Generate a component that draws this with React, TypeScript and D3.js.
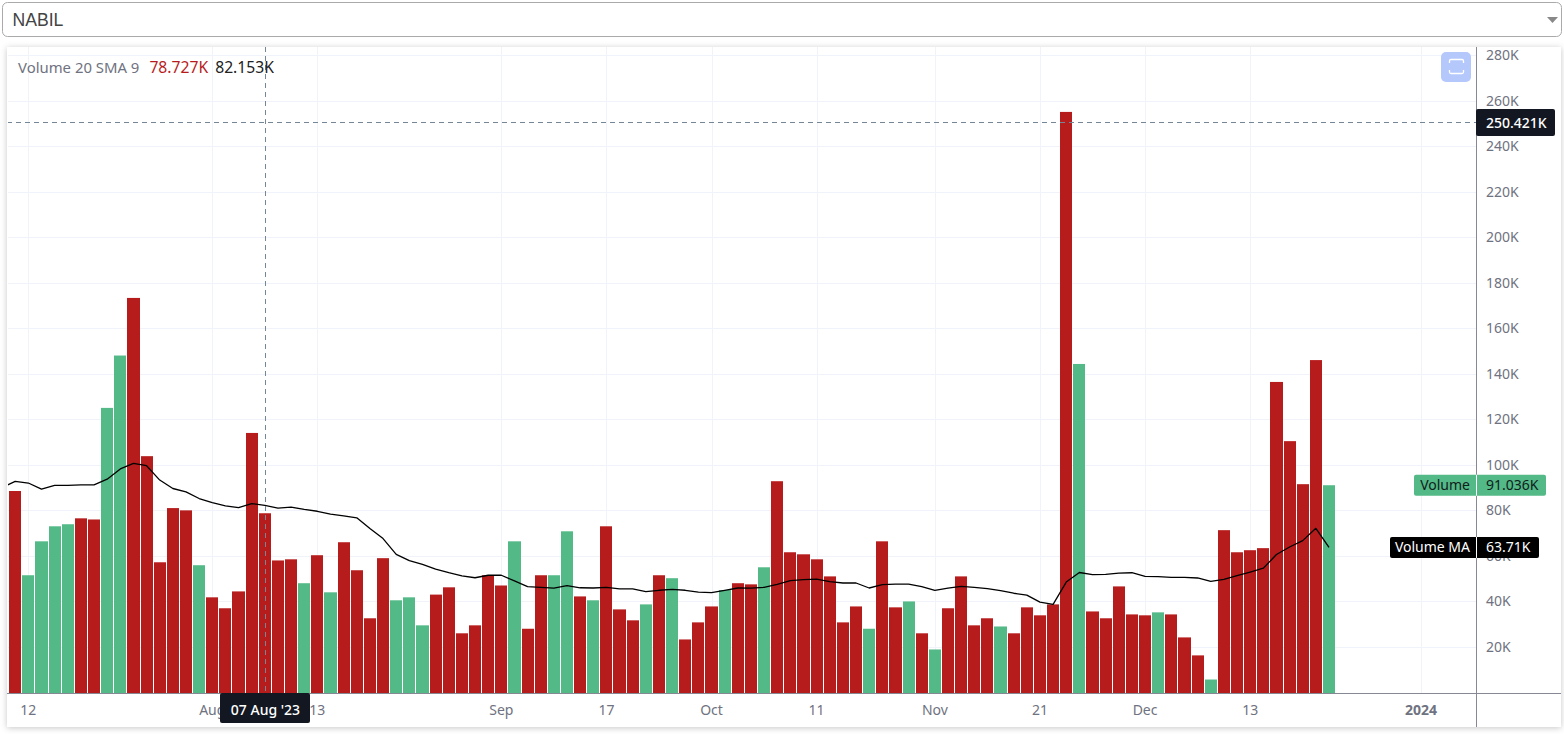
import * as d3 from "d3";
import { useEffect, useRef } from "react";

const WIDTH = 1564;
const HEIGHT = 734;
const FONT = "'Noto Sans', sans-serif";

// volume per session, in thousands
const VOLUME = [
  88.5, 51.5, 66.4, 73, 73.9, 76.5, 76, 125, 148, 173.3, 103.8, 57.2, 81, 80, 55.9, 41.8, 37, 44.4, 114, 78.727,
  58, 58.5, 48, 60.3, 44, 66, 53.7, 32.6, 59, 40.5, 41.8, 29.5, 43, 46.2, 26, 29.5, 51.5, 47, 66.4, 28,
  51.5, 51.5, 70.8, 42.2, 40.5, 73, 36.5, 31.7, 38.7, 51.5, 50.2, 23.3, 30.8, 37.8, 45, 48, 47.5, 55, 92.8, 61.6,
  60.7, 58.5, 51, 30.8, 37.8, 28, 66.4, 37.4, 40, 26, 18.9, 37, 51, 29.5, 32.6, 29, 26, 37.4, 33.9, 38.7,
  255, 144.3, 35.6, 32.6, 46.6, 34.3, 33.9, 35.2, 34.3, 24.2, 16.3, 5.7, 71.3, 61.6, 62.5, 63.4, 136.4, 110.4, 91.5, 146,
  91.036,
];

// indexes of the sessions that closed up
const UP_BARS = [
  1, 2, 3, 4, 7, 8, 14, 22, 24, 29, 30, 31, 38, 41, 42, 44, 48, 50, 54, 57, 65, 68, 70, 75, 81, 87, 91, 100,
];

// the session just off the left edge, the line runs out of the pane towards it
const SMA_BEFORE = 90;
const SMA = [
  92.7, 92, 89.3, 91, 91, 91.2, 91.2, 93.7, 98.2, 100.6, 99.6, 93.3, 89.6, 88.1, 85.2, 83.4, 82, 81.2, 83, 82.153,
  81, 81.4, 80.4, 79.6, 78.3, 77.6, 76.7, 72, 67.6, 60.7, 57.9, 56.3, 54.2, 52.6, 51.2, 50.4, 51.5, 51.5, 49, 46.5,
  46.2, 45.8, 46.9, 46, 45.9, 46.2, 45.5, 45.5, 44.3, 44.9, 45.3, 44.9, 44.1, 43.9, 44.9, 45.9, 45.8, 46.2, 47.5, 49.1,
  49.6, 49.8, 48.7, 48.1, 48.1, 45.9, 47.4, 47.6, 47.6, 46.5, 44.9, 45.8, 46.6, 46.2, 45.6, 44.7, 43.6, 42.8, 39.7, 38.7,
  48.5, 52.7, 51.8, 51.9, 52.4, 52.6, 51, 50.9, 50.6, 50.6, 50.3, 48.8, 49.7, 51.3, 52.9, 54.6, 60.6, 63.9, 66.7, 72.1,
  63.71,
];

const TIME_LABELS = ["12", "Aug", "13", "Sep", "17", "Oct", "11", "Nov", "21", "Dec", "13", "2024"];
const TIME_INDEX = [1, 15, 23, 37, 45, 53, 61, 70, 78, 86, 94, 107];
const VOLUME_TICKS = [20, 40, 60, 80, 100, 120, 140, 160, 180, 200, 220, 240, 260, 280];

const RED = "#b71c1c";
const GREEN = "#53b987";
const GRID = "#f0f3fa";
const AXIS = "#868993";
const TEXT = "#6f7280";
const DARK = "#131722";

const fmtK = (v: number) => `${v}K`;

export default function App() {
  const ref = useRef<SVGSVGElement | null>(null);

  useEffect(() => {
    const svg = d3.select(ref.current);
    svg.selectAll("*").remove();

    const x = d3.scaleLinear().domain([0, 100]).range([15.2, 1329]);
    const y = d3.scaleLinear().domain([0, 280]).range([692.5, 55]);
    const left = 7;
    const right = 1561;
    const top = 47;
    const bottom = 727;
    const paneRight = 1476;
    const paneBottom = 693;
    const step = x(1) - x(0);

    const defs = svg.append("defs");
    defs
      .append("filter")
      .attr("id", "card-shadow")
      .attr("x", "-2%")
      .attr("y", "-3%")
      .attr("width", "104%")
      .attr("height", "106%")
      .append("feDropShadow")
      .attr("dx", 0)
      .attr("dy", 1)
      .attr("stdDeviation", 3)
      .attr("flood-color", "#000")
      .attr("flood-opacity", 0.22);
    defs
      .append("clipPath")
      .attr("id", "pane")
      .append("rect")
      .attr("x", left + 1)
      .attr("y", top)
      .attr("width", paneRight - left - 1)
      .attr("height", paneBottom - top);

    // symbol select above the chart
    svg
      .append("rect")
      .attr("x", 2.5)
      .attr("y", 2.5)
      .attr("width", 1559)
      .attr("height", 34)
      .attr("rx", 5)
      .attr("fill", "#fff")
      .attr("stroke", "#aaa");
    svg
      .append("text")
      .attr("x", 12.5)
      .attr("y", 26)
      .attr("font-family", "'Liberation Sans', sans-serif")
      .attr("font-size", 17.6)
      .attr("fill", "#444")
      .text("NABIL");
    svg.append("path").attr("d", "M1547 17h11l-5.5 6z").attr("fill", "#888");

    svg
      .append("rect")
      .attr("x", left)
      .attr("y", top)
      .attr("width", right - left)
      .attr("height", bottom - top)
      .attr("fill", "#fff")
      .attr("filter", "url(#card-shadow)");

    const pane = svg.append("g").attr("clip-path", "url(#pane)");

    pane
      .selectAll("line.hgrid")
      .data(VOLUME_TICKS)
      .enter()
      .append("line")
      .attr("class", "hgrid")
      .attr("x1", left)
      .attr("x2", paneRight)
      .attr("y1", (d) => Math.round(y(d)) + 0.5)
      .attr("y2", (d) => Math.round(y(d)) + 0.5)
      .attr("stroke", GRID);

    pane
      .selectAll("line.vgrid")
      .data(TIME_INDEX)
      .enter()
      .append("line")
      .attr("class", "vgrid")
      .attr("x1", (d) => Math.round(x(d)) + 0.5)
      .attr("x2", (d) => Math.round(x(d)) + 0.5)
      .attr("y1", top)
      .attr("y2", paneBottom)
      .attr("stroke", GRID);

    const barLeft = (i: number) => Math.round(x(i) - step / 2 + 0.5);
    const barRight = (i: number) => Math.round(x(i) + step / 2 - 0.5);
    pane
      .selectAll("rect.bar")
      .data(VOLUME)
      .enter()
      .append("rect")
      .attr("class", "bar")
      .attr("x", (_, i) => barLeft(i))
      .attr("y", (d) => y(d))
      .attr("width", (_, i) => barRight(i) - barLeft(i))
      .attr("height", (d) => paneBottom - y(d))
      .attr("fill", (_, i) => (UP_BARS.includes(i) ? GREEN : RED));

    const line = d3
      .line<number>()
      .x((_, i) => x(i - 1))
      .y((d) => y(d));
    pane
      .append("path")
      .attr("d", line([SMA_BEFORE, ...SMA]) ?? "")
      .attr("fill", "none")
      .attr("stroke", "#000")
      .attr("stroke-width", 1.3)
      .attr("stroke-linejoin", "round");

    // crosshair
    const crossX = Math.round(x(19)) + 0.5;
    const crossValue = 250.421;
    const crossY = Math.round(y(crossValue)) + 0.5;
    pane
      .append("line")
      .attr("x1", crossX)
      .attr("x2", crossX)
      .attr("y1", top)
      .attr("y2", paneBottom)
      .attr("stroke", "#758696")
      .attr("stroke-dasharray", "5 4");
    pane
      .append("line")
      .attr("x1", left)
      .attr("x2", paneRight)
      .attr("y1", crossY)
      .attr("y2", crossY)
      .attr("stroke", "#758696")
      .attr("stroke-dasharray", "5 4");

    // legend
    const legend = svg
      .append("text")
      .attr("x", 18)
      .attr("y", 72.5)
      .attr("font-family", FONT)
      .attr("font-size", 14.9);
    legend.append("tspan").attr("fill", TEXT).text("Volume 20 SMA 9");
    legend.append("tspan").attr("dx", 10).attr("font-size", 15.7).attr("fill", RED).text(fmtK(VOLUME[19]));
    legend.append("tspan").attr("dx", 7).attr("font-size", 15.7).attr("fill", "#222").text(fmtK(SMA[19]));

    // fullscreen button
    svg
      .append("rect")
      .attr("x", 1441)
      .attr("y", 52)
      .attr("width", 30)
      .attr("height", 30)
      .attr("rx", 5)
      .attr("fill", "#b5c8fb");
    svg
      .append("path")
      .attr("d", "M1449.5 63v-2q0-1.5 1.5-1.5h11q1.5 0 1.5 1.5v2M1449.5 70v2q0 1.5 1.5 1.5h11q1.5 0 1.5-1.5v-2")
      .attr("fill", "none")
      .attr("stroke", "#fff")
      .attr("stroke-width", 1.3);

    // price axis
    const yAxis = d3
      .axisRight(y)
      .tickValues(VOLUME_TICKS)
      .tickSize(0)
      .tickPadding(10)
      .tickFormat((d) => fmtK(d as number));
    const yAxisG = svg.append("g").attr("transform", `translate(${paneRight},0)`).call(yAxis);
    yAxisG.select(".domain").remove();
    yAxisG.selectAll("text").attr("font-family", FONT).attr("font-size", 14).attr("fill", TEXT);

    svg
      .append("line")
      .attr("x1", paneRight + 0.5)
      .attr("x2", paneRight + 0.5)
      .attr("y1", top)
      .attr("y2", bottom)
      .attr("stroke", AXIS);
    svg
      .append("line")
      .attr("x1", left)
      .attr("x2", right)
      .attr("y1", paneBottom + 0.5)
      .attr("y2", paneBottom + 0.5)
      .attr("stroke", AXIS);

    // time axis labels
    svg
      .selectAll("text.time")
      .data(TIME_LABELS)
      .enter()
      .append("text")
      .attr("class", "time")
      .attr("x", (_, i) => x(TIME_INDEX[i]))
      .attr("y", 715)
      .attr("text-anchor", "middle")
      .attr("font-family", FONT)
      .attr("font-size", 14)
      .attr("font-weight", (d) => (d === "2024" ? 700 : 400))
      .attr("fill", TEXT)
      .text((d) => d);

    // crosshair labels
    svg
      .append("rect")
      .attr("x", crossX - 45.5)
      .attr("y", paneBottom)
      .attr("width", 90)
      .attr("height", 30)
      .attr("rx", 2)
      .attr("fill", DARK);
    svg
      .append("text")
      .attr("x", crossX)
      .attr("y", 715)
      .attr("text-anchor", "middle")
      .attr("font-family", FONT)
      .attr("font-size", 14)
      .attr("font-weight", 500)
      .attr("fill", "#fff")
      .text("07 Aug '23");

    svg
      .append("rect")
      .attr("x", paneRight)
      .attr("y", crossY - 13.5)
      .attr("width", 79)
      .attr("height", 27)
      .attr("rx", 2)
      .attr("fill", DARK);
    svg
      .append("text")
      .attr("x", paneRight + 10)
      .attr("y", crossY + 5)
      .attr("font-family", FONT)
      .attr("font-size", 14)
      .attr("font-weight", 500)
      .attr("fill", "#fff")
      .text(fmtK(crossValue));

    // last value tags
    const tags = [
      { name: "Volume", value: VOLUME[100], x0: 1414, x1: 1546, fill: GREEN, color: "#10201a" },
      { name: "Volume MA", value: SMA[100], x0: 1390, x1: 1539, fill: "#000", color: "#fff" },
    ];
    tags.forEach((t) => {
      const cy = y(t.value);
      svg
        .append("rect")
        .attr("x", t.x0)
        .attr("y", cy - 10.5)
        .attr("width", t.x1 - t.x0)
        .attr("height", 21)
        .attr("rx", 2)
        .attr("fill", t.fill);
      svg
        .append("line")
        .attr("x1", paneRight + 0.5)
        .attr("x2", paneRight + 0.5)
        .attr("y1", cy - 10.5)
        .attr("y2", cy + 10.5)
        .attr("stroke", "#fff");
      svg
        .append("text")
        .attr("x", paneRight - 6)
        .attr("y", cy + 5)
        .attr("text-anchor", "end")
        .attr("font-family", FONT)
        .attr("font-size", 14)
        .attr("fill", t.color)
        .text(t.name);
      svg
        .append("text")
        .attr("x", paneRight + 10)
        .attr("y", cy + 5)
        .attr("font-family", FONT)
        .attr("font-size", 14)
        .attr("fill", t.color)
        .text(fmtK(t.value));
    });
  }, []);

  return (
    <svg
      ref={ref}
      width={WIDTH}
      height={HEIGHT}
      viewBox={`0 0 ${WIDTH} ${HEIGHT}`}
      style={{ position: "absolute", left: 0, top: 0, display: "block" }}
    />
  );
}
